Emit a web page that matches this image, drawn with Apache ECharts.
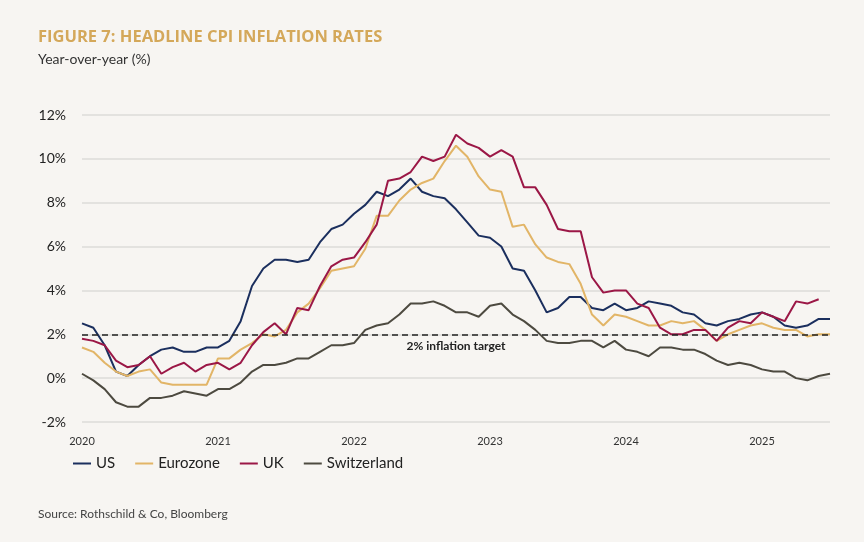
<!DOCTYPE html>
<html><head><meta charset="utf-8">
<script src="https://cdn.jsdelivr.net/npm/echarts@6/dist/echarts.min.js"></script>
<style>html,body{margin:0;background:#f7f5f2}#c{width:864px;height:542px}</style>
</head><body><div id="c"></div>
<script>
const months=[];for(let y=2020;y<=2025;y++)for(let m=1;m<=12;m++){if(y===2025&&m>7)break;months.push(y+'-'+String(m).padStart(2,'0'));}
const us=[2.5,2.3,1.5,0.3,0.1,0.6,1.0,1.3,1.4,1.2,1.2,1.4, 1.4,1.7,2.6,4.2,5.0,5.4,5.4,5.3,5.4,6.2,6.8,7.0, 7.5,7.9,8.5,8.3,8.6,9.1,8.5,8.3,8.2,7.7,7.1,6.5, 6.4,6.0,5.0,4.9,4.0,3.0,3.2,3.7,3.7,3.2,3.1,3.4, 3.1,3.2,3.5,3.4,3.3,3.0,2.9,2.5,2.4,2.6,2.7,2.9, 3.0,2.8,2.4,2.3,2.4,2.7,2.7];
const ez=[1.4,1.2,0.7,0.3,0.1,0.3,0.4,-0.2,-0.3,-0.3,-0.3,-0.3, 0.9,0.9,1.3,1.6,2.0,1.9,2.2,3.0,3.4,4.1,4.9,5.0, 5.1,5.9,7.4,7.4,8.1,8.6,8.9,9.1,9.9,10.6,10.1,9.2, 8.6,8.5,6.9,7.0,6.1,5.5,5.3,5.2,4.3,2.9,2.4,2.9, 2.8,2.6,2.4,2.4,2.6,2.5,2.6,2.2,1.7,2.0,2.2,2.4, 2.5,2.3,2.2,2.2,1.9,2.0,2.0];
const uk=[1.8,1.7,1.5,0.8,0.5,0.6,1.0,0.2,0.5,0.7,0.3,0.6, 0.7,0.4,0.7,1.5,2.1,2.5,2.0,3.2,3.1,4.2,5.1,5.4, 5.5,6.2,7.0,9.0,9.1,9.4,10.1,9.9,10.1,11.1,10.7,10.5, 10.1,10.4,10.1,8.7,8.7,7.9,6.8,6.7,6.7,4.6,3.9,4.0, 4.0,3.4,3.2,2.3,2.0,2.0,2.2,2.2,1.7,2.3,2.6,2.5, 3.0,2.8,2.6,3.5,3.4,3.6];
const ch=[0.2,-0.1,-0.5,-1.1,-1.3,-1.3,-0.9,-0.9,-0.8,-0.6,-0.7,-0.8, -0.5,-0.5,-0.2,0.3,0.6,0.6,0.7,0.9,0.9,1.2,1.5,1.5, 1.6,2.2,2.4,2.5,2.9,3.4,3.4,3.5,3.3,3.0,3.0,2.8, 3.3,3.4,2.9,2.6,2.2,1.7,1.6,1.6,1.7,1.7,1.4,1.7, 1.3,1.2,1.0,1.4,1.4,1.3,1.3,1.1,0.8,0.6,0.7,0.6, 0.4,0.3,0.3,0.0,-0.1,0.1,0.2];
const target=2;
const font='Lato';
const chart=echarts.init(document.getElementById('c'));
const mk=(name,data,color)=>({name,type:'line',data,symbol:'none',lineStyle:{width:2,color},itemStyle:{color},z:3});
chart.setOption({
backgroundColor:'#f7f5f2',
textStyle:{fontFamily:font},
title:[{text:'FIGURE 7: HEADLINE CPI INFLATION RATES',left:33,top:24,textStyle:{color:'#d4a85a',fontSize:16.5,fontWeight:'bold',fontFamily:'Open Sans'}},
{text:'Year-over-year (%)',left:33,top:47,textStyle:{color:'#333',fontSize:14,fontWeight:'normal',fontFamily:font}},
{text:'Source: Rothschild & Co, Bloomberg',left:33,top:503,textStyle:{color:'#444',fontSize:12,fontWeight:'normal',fontFamily:font}}],
legend:{left:68,top:451,itemWidth:18,itemHeight:2,itemGap:20,icon:'rect',textStyle:{fontSize:15,color:'#222',fontFamily:font},data:['US','Eurozone','UK','Switzerland']},
grid:{left:82,right:34,top:115,bottom:120},
xAxis:{type:'category',data:months,boundaryGap:false,axisLine:{show:false},axisTick:{show:false},
axisLabel:{interval:(i,v)=>v.endsWith('-01'),formatter:v=>v.slice(0,4),color:'#333',fontSize:11,margin:14}},
yAxis:{type:'value',min:-2,max:12,interval:2,axisLabel:{formatter:'{value}%',color:'#222',fontSize:14,margin:16},
splitLine:{lineStyle:{color:'#dddbd8',width:1.5}},axisLine:{show:false},axisTick:{show:false}},
series:[mk('US',us,'#1b2f5e'),mk('Eurozone',ez,'#e2b567'),mk('UK',uk,'#9b1746'),
Object.assign(mk('Switzerland',ch,'#4d4a40'),{markLine:{silent:true,symbol:'none',data:[{yAxis:target}],
lineStyle:{type:[6,4],color:'#222',width:1.5},label:{show:true,position:'middle',formatter:'2% inflation target',distance:-18,color:'#222',fontSize:12,fontWeight:'bold',fontFamily:font}}})]
});
</script></body></html>
